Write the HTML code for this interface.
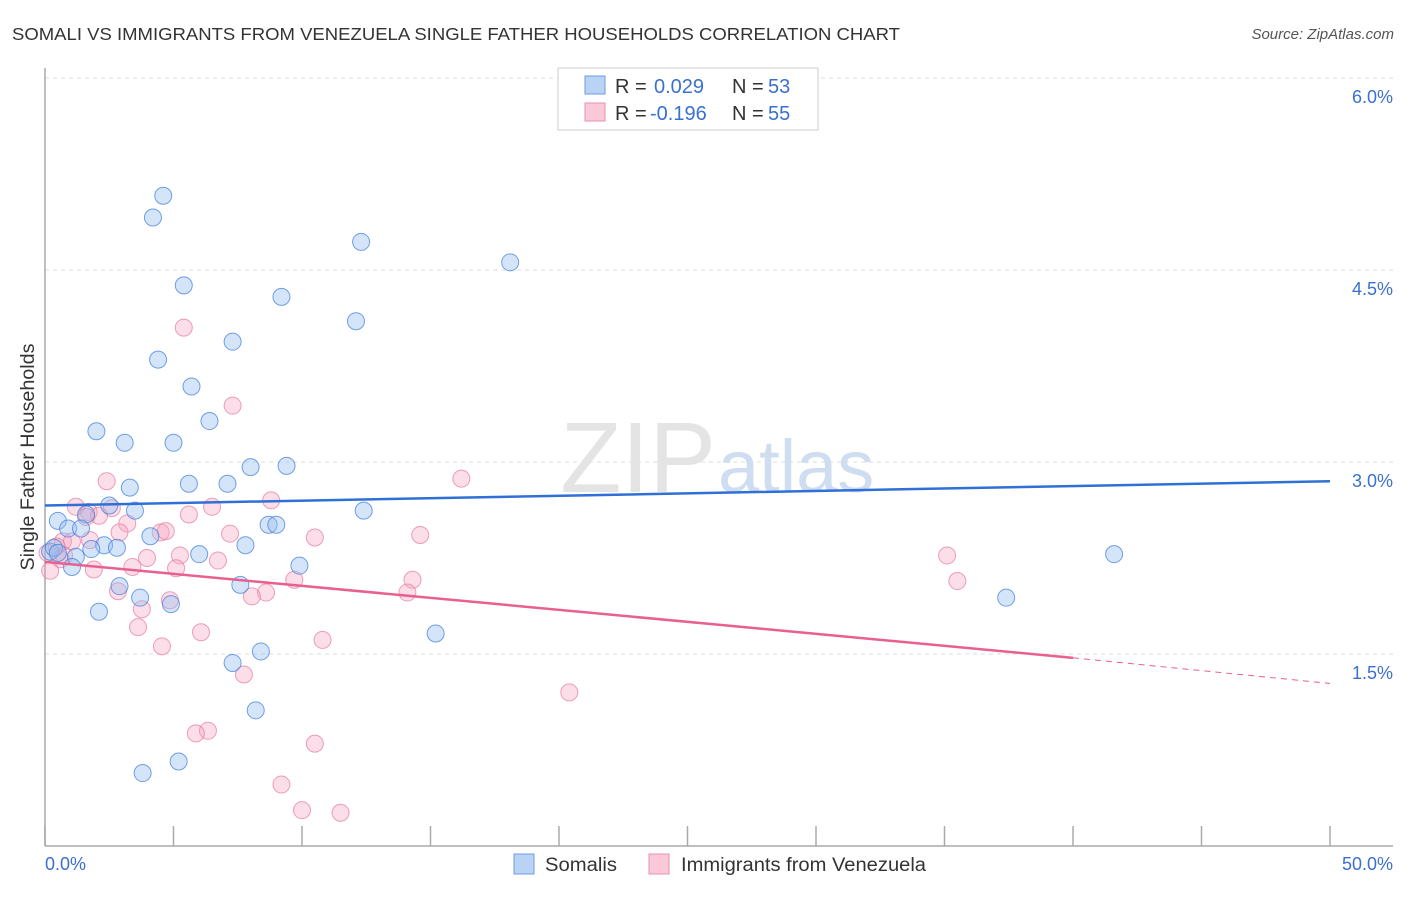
<!DOCTYPE html>
<html><head><meta charset="utf-8"><style>
body{margin:0;background:#fff;font-family:"Liberation Sans",sans-serif}
svg text{font-family:"Liberation Sans",sans-serif}
</style></head><body>
<svg width="1406" height="892" viewBox="0 0 1406 892">
<text x="12" y="40" font-size="17.5" fill="#333" textLength="888" lengthAdjust="spacingAndGlyphs">SOMALI VS IMMIGRANTS FROM VENEZUELA SINGLE FATHER HOUSEHOLDS CORRELATION CHART</text>
<text x="1394" y="39" font-size="15" fill="#555" font-style="italic" text-anchor="end">Source: ZipAtlas.com</text>
<g id="grid"></g>
<text x="716" y="492" font-size="100" font-family="Liberation Serif" fill="#e4e4e4" text-anchor="end">ZIP</text>
<text x="718" y="492" font-size="74" fill="#cfddf0">atlas</text>
<line x1="45" y1="68" x2="45" y2="846" stroke="#aaa" stroke-width="1.5"/>
<line x1="45" y1="846" x2="1393" y2="846" stroke="#aaa" stroke-width="1.5"/>
<g id="xticks"></g>
<text x="34" y="457" font-size="19" fill="#333" text-anchor="middle" transform="rotate(-90 34 457)" textLength="227" lengthAdjust="spacingAndGlyphs">Single Father Households</text>
<text x="45" y="870" font-size="18" fill="#3a70d0">0.0%</text>
<text x="1393" y="870" font-size="18" fill="#3a70d0" text-anchor="end">50.0%</text>
<g id="pts"></g>
<g id="trend"></g>
<g>
<rect x="558" y="68" width="260" height="62" fill="#fff" stroke="#ccc"/>
<rect x="585" y="76" width="20" height="18" fill="#b9d3f5" stroke="#6d9be0"/>
<rect x="585" y="103" width="20" height="18" fill="#f9c9d8" stroke="#eb8fae"/>
<text x="615" y="93" font-size="20" fill="#333">R =</text>
<text x="654" y="93" font-size="20" fill="#3a70d0">0.029</text>
<text x="732" y="93" font-size="20" fill="#333">N =</text>
<text x="768" y="93" font-size="20" fill="#3a70d0">53</text>
<text x="615" y="120" font-size="20" fill="#333">R =</text>
<text x="650" y="120" font-size="20" fill="#3a70d0">-0.196</text>
<text x="732" y="120" font-size="20" fill="#333">N =</text>
<text x="768" y="120" font-size="20" fill="#3a70d0">55</text>
</g>
<g>
<rect x="514" y="854" width="20" height="20" fill="#b9d3f5" stroke="#6d9be0"/>
<text x="545" y="871" font-size="19" fill="#333" textLength="72" lengthAdjust="spacingAndGlyphs">Somalis</text>
<rect x="649" y="854" width="20" height="20" fill="#f9c9d8" stroke="#eb8fae"/>
<text x="681" y="871" font-size="19" fill="#333" textLength="245" lengthAdjust="spacingAndGlyphs">Immigrants from Venezuela</text>
</g>
</svg>
<script>
const yTicks=[1.5,3.0,4.5,6.0];
const yTickLabels=["1.5%","3.0%","4.5%","6.0%"];
const xTickVals=[0,5,10,15,20,25,30,35,40,45,50];
const somaliX=[4.6,4.2,12.3,18.1,5.4,9.2,12.1,7.3,4.4,5.7,6.4,2.0,3.1,5.0,8.0,9.4,5.6,7.1,3.3,2.5,3.5,12.4,0.5,1.6,0.9,1.4,8.7,9.0,4.1,7.8,2.3,2.8,1.8,0.2,1.2,1.05,6.0,9.9,2.9,7.6,3.7,4.9,2.1,15.2,8.4,7.3,8.2,3.8,5.2,41.6,37.4,0.35,0.5];
const somaliY=[5.08,4.91,4.72,4.56,4.38,4.29,4.10,3.94,3.80,3.59,3.32,3.24,3.15,3.15,2.96,2.97,2.83,2.83,2.80,2.66,2.62,2.62,2.54,2.59,2.48,2.48,2.51,2.51,2.42,2.35,2.35,2.33,2.32,2.30,2.26,2.18,2.28,2.19,2.03,2.04,1.94,1.89,1.83,1.66,1.52,1.43,1.06,0.57,0.66,2.28,1.94,2.33,2.29];
const venX=[5.4,7.3,16.2,2.4,8.8,1.2,6.5,2.6,1.7,2.1,5.6,3.2,14.6,1.6,7.2,4.5,4.7,10.5,2.9,0.7,1.05,1.75,0.45,5.25,3.97,0.74,6.73,35.1,5.1,1.9,3.4,14.3,9.7,35.5,14.1,8.6,8.05,2.84,4.86,3.77,3.62,6.07,10.8,4.55,7.74,20.4,6.34,5.87,10.5,9.2,10.0,11.5,0.2,0.1,0.6];
const venY=[4.05,3.44,2.87,2.85,2.70,2.65,2.65,2.64,2.61,2.58,2.59,2.52,2.43,2.57,2.44,2.45,2.46,2.41,2.45,2.38,2.38,2.39,2.34,2.27,2.25,2.27,2.23,2.27,2.17,2.16,2.18,2.08,2.08,2.07,1.98,1.98,1.95,1.99,1.92,1.85,1.71,1.67,1.61,1.56,1.34,1.20,0.90,0.88,0.80,0.48,0.28,0.26,2.15,2.29,2.24];
const blueTrend=[[0,2.66],[50,2.85]];
const pinkTrend=[[0,2.22],[40,1.47],[50,1.27]];
const NS="http://www.w3.org/2000/svg";
const X=v=>45+v/50*1285, Y=v=>846-v*128;
function mk(t,a,p){const e=document.createElementNS(NS,t);for(const k in a)e.setAttribute(k,a[k]);p.appendChild(e);return e;}
const grid=document.getElementById('grid');
yTicks.forEach((t,i)=>{
 const l=mk('line',{x1:45,x2:1393,y1:Y(t),y2:Y(t),stroke:'#ddd','stroke-dasharray':'4,4'},grid);
 
 
 const tx=mk('text',{x:1393,y:Y(t)+25,'font-size':18,fill:'#3a70d0','text-anchor':'end'},grid);
 tx.textContent=yTickLabels[i];
 
 
});
const xt=document.getElementById('xticks');
xTickVals.forEach(v=>{
 const l=mk('line',{x1:X(v),x2:X(v),y1:826,y2:846,stroke:'#aaa','stroke-width':1.5},xt);
 
 
});
const pts=document.getElementById('pts');
venX.forEach((x,i)=>{
 const c=mk('circle',{cx:X(x),cy:Y(venY[i]),r:8.5,fill:'rgba(245,160,190,0.35)',stroke:'rgba(230,120,160,0.7)'},pts);
 
 
});
somaliX.forEach((x,i)=>{
 const c=mk('circle',{cx:X(x),cy:Y(somaliY[i]),r:8.5,fill:'rgba(150,190,240,0.4)',stroke:'rgba(70,130,220,0.75)'},pts);
 
 
});
const tr=document.getElementById('trend');
let b=mk('line',{x1:X(blueTrend[0][0]),y1:Y(blueTrend[0][1]),x2:X(blueTrend[1][0]),y2:Y(blueTrend[1][1]),stroke:'#2f6fd6','stroke-width':2.5},tr);


let p=mk('line',{x1:X(pinkTrend[0][0]),y1:Y(pinkTrend[0][1]),x2:X(pinkTrend[1][0]),y2:Y(pinkTrend[1][1]),stroke:'#e8608f','stroke-width':2.5},tr);


let pd=mk('line',{x1:X(pinkTrend[1][0]),y1:Y(pinkTrend[1][1]),x2:X(pinkTrend[2][0]),y2:Y(pinkTrend[2][1]),stroke:'#e8608f','stroke-width':1,'stroke-dasharray':'6,5'},tr);


</script>
</body></html>
